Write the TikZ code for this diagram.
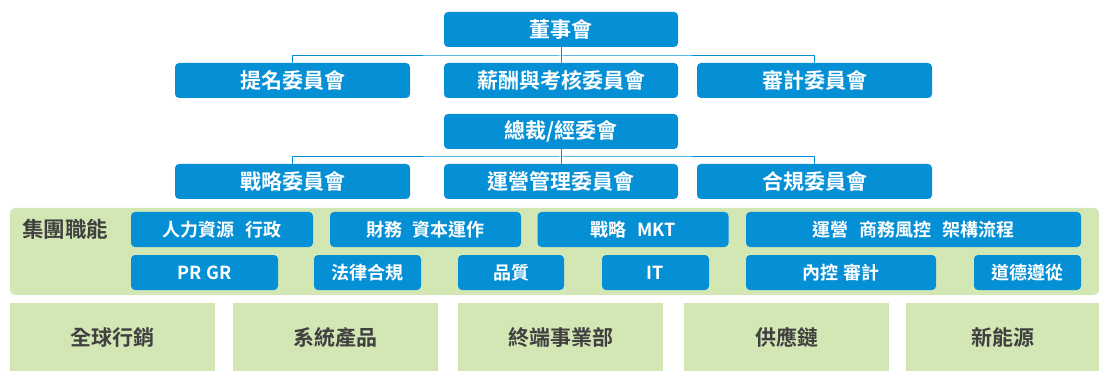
\documentclass[tikz,border=0pt]{standalone}
\usepackage{fontspec}
\setmainfont{Noto Sans CJK TC}[BoldFont={* Bold}]
\definecolor{orgblue}{HTML}{0590D6}
\definecolor{orggreen}{HTML}{D3E7B5}
\definecolor{darktext}{HTML}{404040}
\newcommand{\gap}{\hspace{0.6em}}
\tikzset{
  bluebox/.style={fill=orgblue, rounded corners=4pt, inner sep=0pt, text=white, font=\bfseries\fontsize{21}{24}\selectfont},
  bandbox/.style={bluebox, font=\bfseries\fontsize{18}{21}\selectfont},
  greenbox/.style={fill=orggreen, inner sep=0pt, text=darktext, font=\bfseries\fontsize{21}{24}\selectfont},
  conn/.style={draw=orgblue, line width=1pt},
}
\begin{document}
\begin{tikzpicture}[x=1pt,y=-1pt]
\useasboundingbox (0,0) rectangle (1099,371);
% top group
\node[bluebox, minimum width=234pt, minimum height=35pt] (board) at (561,29.5) {董事會};
\node[bluebox, minimum width=235pt, minimum height=35pt] (nom) at (292.5,80.5) {提名委員會};
\node[bluebox, minimum width=234pt, minimum height=35pt] (pay) at (561,80.5) {薪酬與考核委員會};
\node[bluebox, minimum width=235pt, minimum height=35pt] (aud) at (814.5,80.5) {審計委員會};
\coordinate (b1) at (561,56);
\draw[conn] (board.south) -- (pay.north);
\draw[conn] (nom.north) |- (b1) -| (aud.north);
% second group
\node[bluebox, minimum width=234pt, minimum height=35pt] (ceo) at (561,131.5) {總裁/經委會};
\node[bluebox, minimum width=235pt, minimum height=35pt] (str) at (292.5,181.5) {戰略委員會};
\node[bluebox, minimum width=234pt, minimum height=35pt] (ops) at (561,181.5) {運營管理委員會};
\node[bluebox, minimum width=235pt, minimum height=35pt] (cmp) at (814.5,181.5) {合規委員會};
\coordinate (b2) at (561,157);
\draw[conn] (ceo.south) -- (ops.north);
\draw[conn] (str.north) |- (b2) -| (cmp.north);
% band
\fill[orggreen, rounded corners=5pt] (10,208) rectangle (1099,295);
\node[text=darktext, font=\bfseries\fontsize{21.5}{24}\selectfont, anchor=west, inner sep=0pt] (grp) at (22,229.5) {集團職能};
\node[bandbox, minimum width=182pt, minimum height=35pt] (hr) at (222,229.5) {人力資源\gap 行政};
\node[bandbox, minimum width=191pt, minimum height=35pt] (fin) at (425.5,229.5) {財務\gap 資本運作};
\node[bandbox, minimum width=191pt, minimum height=35pt] (mkt) at (633,229.5) {戰略\gap MKT};
\node[bandbox, minimum width=335pt, minimum height=35pt] (opr) at (913.5,229.5) {運營\gap 商務風控\gap 架構流程};
\node[bandbox, minimum width=147pt, minimum height=35pt] (pr) at (204.5,272.5) {PR GR};
\node[bandbox, minimum width=107pt, minimum height=35pt] (law) at (367.5,272.5) {法律合規};
\node[bandbox, minimum width=106pt, minimum height=35pt] (qa) at (511,272.5) {品質};
\node[bandbox, minimum width=107pt, minimum height=35pt] (it) at (655.5,272.5) {IT};
\node[bandbox, minimum width=190pt, minimum height=35pt] (ic) at (841,272.5) {內控\hspace{0.3em}審計};
\node[bandbox, minimum width=107pt, minimum height=35pt] (eth) at (1027.5,272.5) {道德遵從};
% bottom row
\node[greenbox, minimum width=205pt, minimum height=69pt] (gm) at (112.5,337.5) {全球行銷};
\node[greenbox, minimum width=205pt, minimum height=69pt] (sp) at (335.5,337.5) {系統產品};
\node[greenbox, minimum width=205pt, minimum height=69pt] (te) at (560.5,337.5) {終端事業部};
\node[greenbox, minimum width=205pt, minimum height=69pt] (sc) at (786.5,337.5) {供應鏈};
\node[greenbox, minimum width=193pt, minimum height=69pt] (ne) at (1002.5,337.5) {新能源};
\end{tikzpicture}
\end{document}
